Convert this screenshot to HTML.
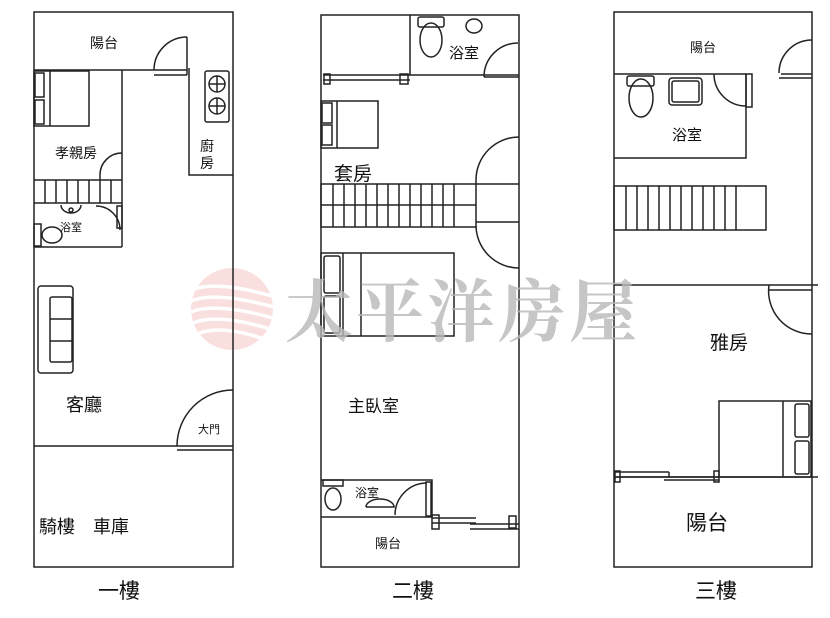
<!DOCTYPE html>
<html><head><meta charset="utf-8"><style>
html,body{margin:0;padding:0;background:#fff}
svg{display:block}
text{font-family:"Liberation Sans","Noto Sans CJK TC",sans-serif;fill:#111}
</style></head><body>
<svg width="830" height="618" viewBox="0 0 830 618" xmlns="http://www.w3.org/2000/svg">
<rect width="830" height="618" fill="#fff"/>
<g opacity="0.55">
<circle cx="232" cy="309" r="41" fill="#f6c6c6"/>
<g stroke="#fff" stroke-width="3.5" fill="none">
<path d="M192 290 Q215 280 272 296"/><path d="M191 301 Q215 291 274 307"/>
<path d="M191 312 Q215 302 273 318"/><path d="M193 323 Q217 313 270 329"/>
<path d="M197 334 Q220 324 264 339"/>
</g>
</g>
<g fill="none" stroke="#222" stroke-width="1.5">
<!-- Floor 1 -->
<rect x="34" y="12" width="199" height="555"/>
<line x1="34" y1="70" x2="187" y2="70"/>
<path d="M187 37 A33 33 0 0 0 154 70"/><line x1="187" y1="37" x2="187" y2="75"/><line x1="154" y1="75" x2="187" y2="75"/>
<polyline points="189,68 189,175 233,175"/>
<rect x="205" y="71" width="24" height="51" rx="2"/>
<circle cx="217" cy="84" r="8"/><circle cx="217" cy="106" r="8"/>
<line x1="209" y1="84" x2="225" y2="84"/><line x1="217" y1="76" x2="217" y2="92"/>
<line x1="209" y1="106" x2="225" y2="106"/><line x1="217" y1="98" x2="217" y2="114"/>
<line x1="122" y1="70" x2="122" y2="247"/>
<rect x="34" y="71" width="55" height="55"/><line x1="50" y1="71" x2="50" y2="126"/><rect x="35" y="73" width="9" height="24"/><rect x="35" y="100" width="9" height="24"/>
<path d="M122 153 A22 22 0 0 0 100 175"/><line x1="100" y1="175" x2="100" y2="180"/>
<line x1="34" y1="180" x2="122" y2="180"/><line x1="34" y1="203" x2="122" y2="203"/>
<path d="M45 180V203M56 180V203M67 180V203M78 180V203M89 180V203M100 180V203M111 180V203"/>
<line x1="34" y1="247" x2="122" y2="247"/>
<path d="M61 205 A10 8 0 0 0 81 205"/><circle cx="71" cy="210" r="2"/>
<path d="M96 206 A24 24 0 0 1 120 230"/><rect x="117" y="206" width="5" height="22"/>
<ellipse cx="52" cy="235" rx="10" ry="8"/><rect x="34" y="224" width="7" height="22"/>
<rect x="38" y="286" width="35" height="87" rx="3"/><rect x="50" y="297" width="22" height="65" rx="2"/>
<line x1="50" y1="319" x2="72" y2="319"/><line x1="50" y1="341" x2="72" y2="341"/>
<line x1="34" y1="446" x2="233" y2="446"/>
<path d="M233 390 A56 56 0 0 0 177 446"/><line x1="177" y1="450" x2="233" y2="450"/>
<!-- Floor 2 -->
<rect x="321" y="15" width="198" height="552"/>
<polyline points="410,15 410,75 519,75"/>
<path d="M323 75H410M323 80H410"/>
<rect x="324" y="74" width="6" height="10"/><rect x="400" y="74" width="8" height="10"/>
<ellipse cx="431" cy="40" rx="11" ry="17"/><rect x="418" y="17" width="26" height="10" rx="2"/>
<ellipse cx="474" cy="26" rx="8" ry="7"/>
<path d="M518 43 A34 34 0 0 0 484 77"/><line x1="484" y1="77" x2="519" y2="77"/>
<rect x="321" y="101" width="57" height="47"/><line x1="337" y1="101" x2="337" y2="148"/>
<rect x="322" y="103" width="10" height="20"/><rect x="322" y="125" width="10" height="20"/>
<path d="M519 137 A43 43 0 0 0 476 180"/><line x1="476" y1="180" x2="476" y2="184"/>
<rect x="321" y="184" width="155" height="43"/><line x1="321" y1="205" x2="476" y2="205"/>
<path d="M333 184V227M344 184V227M355 184V227M366 184V227M377 184V227M388 184V227M399 184V227M410 184V227M421 184V227M432 184V227M443 184V227M454 184V227"/>
<line x1="476" y1="184" x2="519" y2="184"/><line x1="476" y1="222" x2="519" y2="222"/>
<path d="M476 226 A43 43 0 0 0 519 268"/>
<rect x="321" y="253" width="133" height="83"/><line x1="343" y1="253" x2="343" y2="336"/><line x1="361" y1="253" x2="361" y2="336"/>
<rect x="324" y="256" width="16" height="37" rx="2"/><rect x="324" y="296" width="16" height="37" rx="2"/>
<polyline points="321,480 432,480 432,517"/><line x1="321" y1="517" x2="432" y2="517"/>
<rect x="323" y="480" width="20" height="6"/><ellipse cx="333" cy="499" rx="8" ry="11"/>
<path d="M366 507 A14 8 0 0 1 394 507 L366 507"/>
<path d="M427 483 A32 32 0 0 0 395 515"/><rect x="426" y="482" width="5" height="34"/>
<path d="M432 518H476M432 523H476M470 524H519M470 529H519"/>
<rect x="432" y="515" width="7" height="14"/><rect x="509" y="516" width="7" height="12"/>
<!-- Floor 3 -->
<rect x="614" y="12" width="198" height="555"/>
<line x1="614" y1="74" x2="746" y2="74"/><line x1="781" y1="74" x2="812" y2="74"/>
<path d="M812 40 A33 33 0 0 0 779 73"/><line x1="779" y1="78" x2="812" y2="78"/>
<polyline points="746,74 746,158 614,158"/>
<path d="M714 74 A32 32 0 0 0 746 106"/><rect x="746" y="74" width="6" height="33"/>
<ellipse cx="641" cy="98" rx="12" ry="19"/><rect x="627" y="76" width="27" height="10" rx="2"/>
<rect x="669" y="78" width="33" height="27" rx="3"/><rect x="672" y="81" width="27" height="21" rx="2"/>
<rect x="614" y="186" width="152" height="44"/>
<path d="M626 186V230M637 186V230M648 186V230M659 186V230M670 186V230M681 186V230M692 186V230M703 186V230M714 186V230M725 186V230M736 186V230"/>
<line x1="614" y1="285" x2="818" y2="285"/><line x1="769" y1="290" x2="812" y2="290"/>
<path d="M769 285 A43 43 0 0 0 812 334"/>
<rect x="719" y="401" width="92" height="76"/><line x1="783" y1="401" x2="783" y2="477"/>
<rect x="795" y="404" width="14" height="33" rx="2"/><rect x="795" y="441" width="14" height="33" rx="2"/>
<path d="M614 472H669M614 477H669M664 480H719M664 477H719M669 472V477"/>
<rect x="615" y="471" width="5" height="11"/><rect x="714" y="471" width="5" height="11"/>
<line x1="614" y1="477" x2="818" y2="477"/>
</g>
<text x="285" y="336" style="font-family:'Noto Serif CJK SC','Noto Serif CJK TC',serif;font-weight:bold;font-size:68px;fill:#b8b8b8" opacity="0.8" textLength="352">太平洋房屋</text>
<g font-size="14">
<text x="90" y="48">陽台</text>
<text x="55" y="158">孝親房</text>
<text x="200" y="151">廚</text><text x="200" y="168">房</text>
<text x="60" y="231" font-size="11">浴室</text>
<text x="198" y="433" font-size="11">大門</text>
<text x="66" y="411" font-size="18">客廳</text>
<text x="39" y="533" font-size="18">騎樓　車庫</text>
<text x="449" y="58" font-size="15">浴室</text>
<text x="334" y="180" font-size="19">套房</text>
<text x="348" y="412" font-size="17">主臥室</text>
<text x="355" y="497" font-size="12">浴室</text>
<text x="375" y="548" font-size="13">陽台</text>
<text x="690" y="52" font-size="13">陽台</text>
<text x="672" y="140" font-size="15">浴室</text>
<text x="710" y="349" font-size="19">雅房</text>
<text x="686" y="530" font-size="21">陽台</text>
<text x="98" y="598" font-size="21">一樓</text>
<text x="392" y="598" font-size="21">二樓</text>
<text x="695" y="598" font-size="21">三樓</text>
</g>
</svg>
</body></html>
